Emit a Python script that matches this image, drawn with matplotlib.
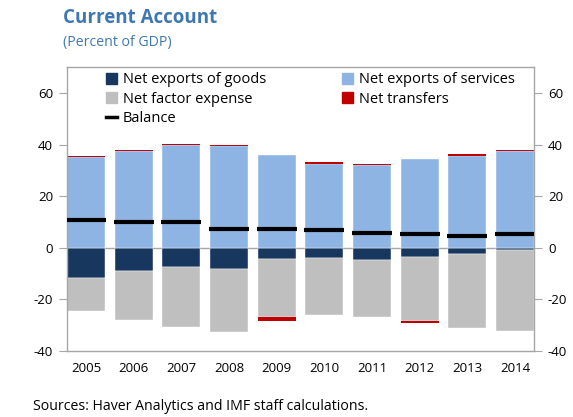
import numpy as np
import matplotlib.pyplot as plt
from matplotlib.patches import Patch
from matplotlib.lines import Line2D

plt.rcParams['font.family'] = ['Open Sans', 'DejaVu Sans']
plt.rcParams['axes.unicode_minus'] = False

# data (percent of GDP)
years = ['2005', '2006', '2007', '2008', '2009', '2010', '2011', '2012', '2013', '2014']
goods = [-11.8, -9.0, -7.6, -8.0, -4.3, -3.8, -4.9, -3.7, -2.4, -0.8]
services = [35.3, 37.6, 39.7, 39.5, 36.1, 32.5, 32.1, 34.6, 35.6, 37.5]
factor = [-12.7, -18.8, -22.9, -24.5, -22.4, -22.1, -21.8, -24.5, -28.7, -31.5]
transfers = [0.3, 0.2, 0.7, 0.5, -1.7, 0.6, 0.3, -0.8, 0.6, 0.3]
balance = [10.9, 10.1, 10.1, 7.4, 7.4, 7.0, 5.8, 5.4, 4.7, 5.4]

c_goods = '#17375E'
c_serv = '#8EB4E3'
c_factor = '#BFBFBF'
c_trans = '#C00000'
c_title = '#3E78B2'
c_axis = '#A6A6A6'

x = np.arange(len(years))
w = 0.8

goods = np.array(goods)
services = np.array(services)
factor = np.array(factor)
transfers = np.array(transfers)

fig = plt.figure(figsize=(5.73, 4.17), dpi=100)
ax = fig.add_axes([0.117, 0.158, 0.815, 0.681])

# stack positives up, negatives down
pos_base = np.zeros(len(x))
neg_base = np.zeros(len(x))

def stack(vals, color, edge=0.3):
    global pos_base, neg_base
    base = np.where(vals >= 0, pos_base, neg_base)
    ax.bar(x, vals, w, bottom=base, color=color, edgecolor='white', linewidth=edge, zorder=2)
    pos_base = pos_base + np.where(vals >= 0, vals, 0)
    neg_base = neg_base + np.where(vals < 0, vals, 0)

stack(goods, c_goods)
stack(services, c_serv)
stack(factor, c_factor)
stack(transfers, c_trans, edge=0)

ax.axhline(0, color=c_axis, linewidth=1, zorder=1.5)
ax.hlines(balance, x - 0.42, x + 0.42, color='black', linewidth=3, zorder=3)

ax.set_xlim(-0.4, len(x) - 0.6)
ax.set_ylim(-40, 70)
ax.set_yticks([-40, -20, 0, 20, 40, 60])
ax.set_xticks(x)
ax.set_xticklabels(years)
ax.tick_params(axis='x', length=0, labelsize=9.5, pad=8)
ax.tick_params(axis='y', which='both', direction='out', length=6, color=c_axis,
               labelsize=9.5, right=True, labelright=True, pad=4)
for s in ax.spines.values():
    s.set_color(c_axis)
    s.set_linewidth(1)

handles = [
    Patch(color=c_goods, label='Net exports of goods'),
    Patch(color=c_factor, label='Net factor expense'),
    Line2D([0], [0], color='black', linewidth=2.5, label='Balance'),
    Patch(color=c_serv, label='Net exports of services'),
    Patch(color=c_trans, label='Net transfers'),
]
ax.legend(handles=handles, ncol=2, loc='upper left', bbox_to_anchor=(0.065, 1.012),
          frameon=False, fontsize=10.5, handlelength=0.75, handleheight=0.75,
          handletextpad=0.4, columnspacing=5.2, labelspacing=0.3, borderaxespad=0.2)

fig.text(0.110, 0.958, 'Current Account', fontsize=13.5, fontweight='bold',
         color=c_title, va='center', ha='left')
fig.text(0.110, 0.899, '(Percent of GDP)', fontsize=10.2, color=c_title,
         va='center', ha='left')
fig.text(0.058, 0.026, 'Sources: Haver Analytics and IMF staff calculations.',
         fontsize=10.2, va='center', ha='left')

fig.savefig('out.png', dpi=100)
